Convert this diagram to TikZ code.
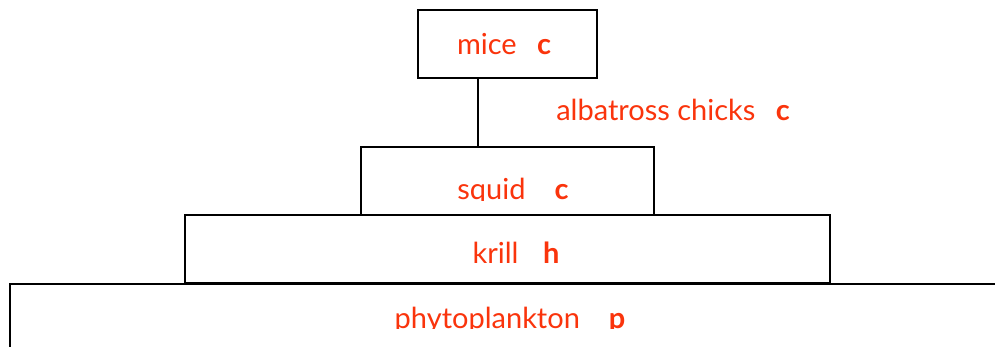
\documentclass[tikz,border=0pt]{standalone}
\usepackage{fontspec}
\setmainfont{Lato}
\usepackage{tikz}
\definecolor{foodred}{RGB}{250,52,12}

\begin{document}
\begin{tikzpicture}[x=1pt, y=-1pt, line width=2.2pt,
  level/.style={draw,fill=white,rectangle,inner sep=0pt},
  lbl/.style={text=foodred,font=\fontsize{29}{34}\selectfont,anchor=base,inner sep=0pt}]
  \useasboundingbox (0,0) rectangle (995,347);

  % trophic levels, top to bottom
  \node [level,minimum width=179pt,minimum height=68pt]  (mice)   at (507.5,44)  {};
  \node [level,minimum width=293pt,minimum height=68pt]  (squid)  at (507.5,181) {};
  \node [level,minimum width=645pt,minimum height=68pt]  (krill)  at (507.5,249) {};
  \node [level,minimum width=1000pt,minimum height=120pt] (phyto) at (510,344)   {};

  \coordinate (stem) at (478,78);
  \draw (stem) -- (stem |- squid.north);

  \node [lbl] (micetxt) at (504,55) {mice\hspace{0.7em}\textbf{c}};
  \node [lbl] (albtxt)  at (673,121) {albatross chicks\hspace{0.7em}\textbf{c}};
  \begin{scope}
    \clip (squid.north west) rectangle (654,200.5);
    \node [lbl] (squidtxt) at (513,200) {squid\hspace{1em}\textbf{c}};
  \end{scope}
  \node [lbl] (krilltxt) at (516,263) {krill\hspace{0.85em}\textbf{h}};
  \begin{scope}
    \clip (10,284) rectangle (995,328.5);
    \node [lbl] (phytotxt) at (510,328) {phytoplankton\hspace{1em}\textbf{p}};
  \end{scope}
\end{tikzpicture}
\end{document}
